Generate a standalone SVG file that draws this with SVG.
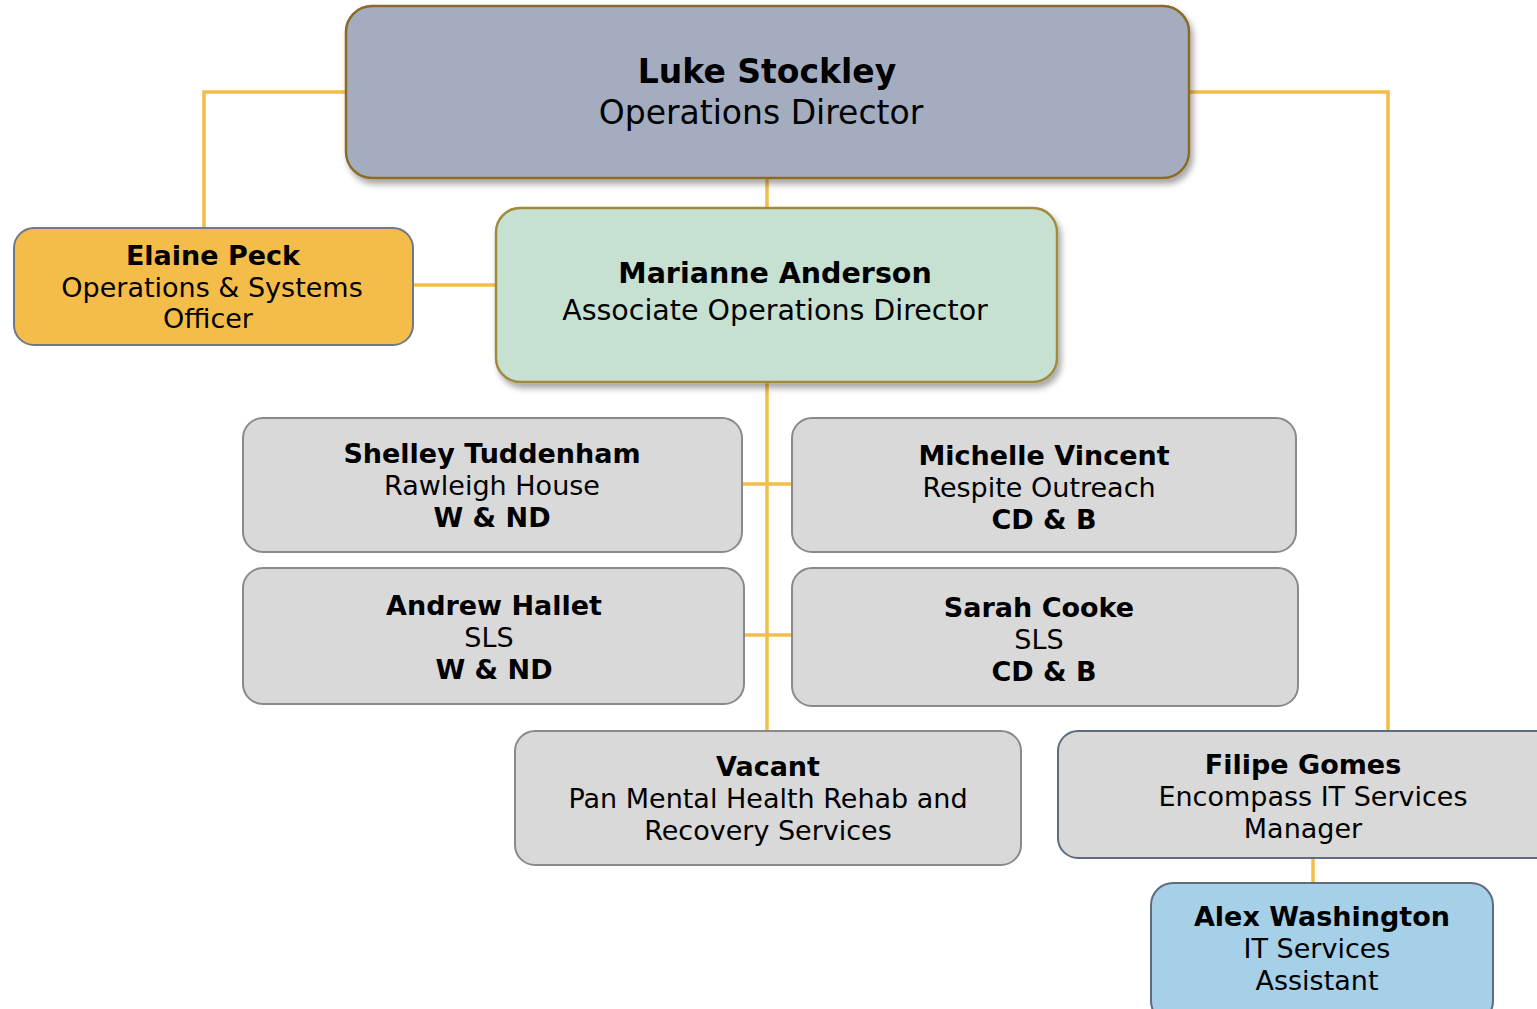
<svg xmlns="http://www.w3.org/2000/svg" width="1537" height="1009" viewBox="0 0 1537 1009">
<style>
text{font-family:"DejaVu Sans",Verdana,sans-serif;fill:#000;text-anchor:middle}
.b{font-weight:bold}
.t{font-size:27px}
.m{font-size:28.5px}
.l{font-size:33px}
.con{stroke:#f4bd4a;stroke-width:3.5;fill:none}
.grey{fill:#d9d9d9;stroke:#8a8a8a;stroke-width:2}
</style>
<defs>
<filter id="sh" x="-5%" y="-10%" width="115%" height="130%">
<feDropShadow dx="3" dy="5" stdDeviation="3" flood-color="#000" flood-opacity="0.35"/>
</filter>
</defs>
<g id="connectors">
<polyline class="con" points="346,92 204,92 204,228"/>
<polyline class="con" points="1189,92 1388,92 1388,731"/>
<line class="con" x1="767" y1="178" x2="767" y2="208"/>
<line class="con" x1="413" y1="285" x2="496" y2="285"/>
<line class="con" x1="767" y1="382" x2="767" y2="731"/>
<line class="con" x1="742" y1="484" x2="792" y2="484"/>
<line class="con" x1="744" y1="635" x2="792" y2="635"/>
<line class="con" x1="1313" y1="858" x2="1313" y2="883"/>
</g>
<g id="luke">
<rect x="346" y="6" width="843" height="172" rx="26" fill="#a4adc0" stroke="#8b6a28" stroke-width="2.5" filter="url(#sh)"/>
<text class="l b" x="767" y="83">Luke Stockley</text>
<text class="l" x="761" y="124">Operations Director</text>
</g>
<g id="elaine">
<rect x="14" y="228" width="399" height="117" rx="20" fill="#f4bd4a" stroke="#6e7888" stroke-width="2"/>
<text class="t b" x="213" y="265">Elaine Peck</text>
<text class="t" x="212" y="297">Operations &amp; Systems</text>
<text class="t" x="208" y="328">Officer</text>
</g>
<g id="marianne">
<rect x="496" y="208" width="561" height="174" rx="24" fill="#c6e0d2" stroke="#a08a3e" stroke-width="2.5" filter="url(#sh)"/>
<text class="m b" x="775" y="283">Marianne Anderson</text>
<text class="m" x="775" y="320">Associate Operations Director</text>
</g>
<g id="shelley">
<rect class="grey" x="243" y="418" width="499" height="134" rx="20"/>
<text class="t b" x="492" y="463">Shelley Tuddenham</text>
<text class="t" x="492" y="495">Rawleigh House</text>
<text class="t b" x="492" y="527">W &amp; ND</text>
</g>
<g id="michelle">
<rect class="grey" x="792" y="418" width="504" height="134" rx="20"/>
<text class="t b" x="1044" y="465">Michelle Vincent</text>
<text class="t" x="1039" y="497">Respite Outreach</text>
<text class="t b" x="1044" y="529">CD &amp; B</text>
</g>
<g id="andrew">
<rect class="grey" x="243" y="568" width="501" height="136" rx="20"/>
<text class="t b" x="494" y="615">Andrew Hallet</text>
<text class="t" x="489" y="647">SLS</text>
<text class="t b" x="494" y="679">W &amp; ND</text>
</g>
<g id="sarah">
<rect class="grey" x="792" y="568" width="506" height="138" rx="20"/>
<text class="t b" x="1039" y="617">Sarah Cooke</text>
<text class="t" x="1039" y="649">SLS</text>
<text class="t b" x="1044" y="681">CD &amp; B</text>
</g>
<g id="vacant">
<rect class="grey" x="515" y="731" width="506" height="134" rx="20"/>
<text class="t b" x="768" y="776">Vacant</text>
<text class="t" x="768" y="808">Pan Mental Health Rehab and</text>
<text class="t" x="768" y="840">Recovery Services</text>
</g>
<g id="filipe">
<rect x="1058" y="731" width="500" height="127" rx="20" fill="#d9d9d9" stroke="#5f6b7e" stroke-width="2"/>
<text class="t b" x="1303" y="774">Filipe Gomes</text>
<text class="t" x="1313" y="806">Encompass IT Services</text>
<text class="t" x="1303" y="838">Manager</text>
</g>
<g id="alex">
<rect x="1151" y="883" width="342" height="140" rx="22" fill="#a6cfe8" stroke="#5f6b7e" stroke-width="2"/>
<text class="t b" x="1322" y="926">Alex Washington</text>
<text class="t" x="1317" y="958">IT Services</text>
<text class="t" x="1317" y="990">Assistant</text>
</g>
</svg>
